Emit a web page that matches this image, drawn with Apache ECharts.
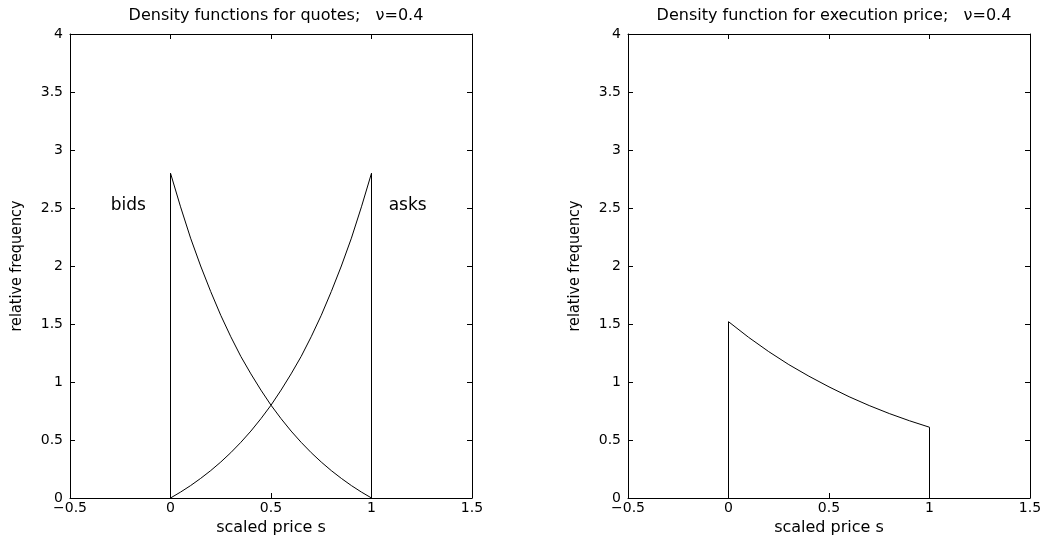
<!DOCTYPE html>
<html>
<head>
<meta charset="utf-8">
<script src="https://cdn.jsdelivr.net/npm/echarts@6/dist/echarts.min.js"></script>
<style>html,body{margin:0;padding:0;background:#fff;}#c{width:1061px;height:536px;}</style>
</head>
<body>
<div id="c"></div>
<script>
// ---- data ----
var sGrid = [0, 0.05, 0.1, 0.15, 0.2, 0.25, 0.3, 0.35, 0.4, 0.45, 0.5, 0.55, 0.6, 0.65, 0.7, 0.75, 0.8, 0.85, 0.9, 0.95, 1];
var bidsDensity = [2.80, 2.51, 2.24, 2.00, 1.78, 1.575, 1.39, 1.22, 1.07, 0.93, 0.80, 0.684, 0.577, 0.48, 0.391, 0.31, 0.236, 0.169, 0.107, 0.051, 0];
var asksDensity = [0, 0.051, 0.107, 0.169, 0.236, 0.31, 0.391, 0.48, 0.577, 0.684, 0.80, 0.93, 1.07, 1.22, 1.39, 1.575, 1.78, 2.00, 2.24, 2.51, 2.80];
var execS = [0, 0.1, 0.2, 0.3, 0.4, 0.5, 0.6, 0.7, 0.8, 0.9, 1];
var execDensity = [1.52, 1.385, 1.262, 1.15, 1.05, 0.958, 0.873, 0.797, 0.728, 0.666, 0.61];
var annotations = [{text: 'bids', x: -0.21, y: 2.52}, {text: 'asks', x: 1.18, y: 2.52}];
var titles = ['Density functions for quotes;   \u03bd=0.4', 'Density function for execution price;   \u03bd=0.4'];
var xLabel = 'scaled price s';
var yLabel = 'relative frequency';
var xRange = [-0.5, 1.5], xStep = 0.5;
var yRange = [0, 4], yStep = 0.5;

// ---- build ----
function curve(xs, ys, closeLeft, closeRight) {
  var pts = [];
  if (closeLeft) pts.push([xs[0], 0]);
  for (var i = 0; i < xs.length; i++) pts.push([xs[i], ys[i]]);
  if (closeRight) pts.push([xs[xs.length - 1], 0]);
  return pts;
}
var FONT = 'DejaVu Sans, Liberation Sans, sans-serif';
var NARROW = 'DejaVu Sans Condensed, DejaVu Sans, sans-serif';
function fmt(v) { return String(v).replace('-', '\u2212'); }
var lineStyleAxis = {color: '#000', width: 1};
function xAxes(gi) {
  return [
    {type: 'value', gridIndex: gi, min: xRange[0], max: xRange[1], interval: xStep, position: 'bottom',
     name: xLabel, nameLocation: 'middle', nameGap: 15,
     nameTextStyle: {fontFamily: FONT, fontSize: 16, color: '#000'},
     axisLine: {onZero: false, lineStyle: lineStyleAxis},
     axisTick: {inside: true, length: 5, lineStyle: lineStyleAxis},
     axisLabel: {formatter: fmt, fontFamily: FONT, fontSize: 14, color: '#000', margin: 3},
     splitLine: {show: false}},
    {type: 'value', gridIndex: gi, min: xRange[0], max: xRange[1], interval: xStep, position: 'top',
     axisLine: {onZero: false, lineStyle: lineStyleAxis},
     axisTick: {inside: true, length: 5, lineStyle: lineStyleAxis},
     axisLabel: {show: false}, splitLine: {show: false}}
  ];
}
function yAxes(gi) {
  return [
    {type: 'value', gridIndex: gi, min: yRange[0], max: yRange[1], interval: yStep, position: 'left',
     name: yLabel, nameLocation: 'middle', nameGap: 45, nameRotate: 90,
     nameTextStyle: {fontFamily: NARROW, fontSize: 16, color: '#000'},
     axisLine: {onZero: false, lineStyle: lineStyleAxis},
     axisTick: {inside: true, length: 5, lineStyle: lineStyleAxis},
     axisLabel: {fontFamily: FONT, fontSize: 14, color: '#000', margin: 7},
     splitLine: {show: false}},
    {type: 'value', gridIndex: gi, min: yRange[0], max: yRange[1], interval: yStep, position: 'right',
     axisLine: {onZero: false, lineStyle: lineStyleAxis},
     axisTick: {inside: true, length: 5, lineStyle: lineStyleAxis},
     axisLabel: {show: false}, splitLine: {show: false}}
  ];
}
var lineS = {color: '#000', width: 1};
function lineSeries(pts, xi, yi) {
  return {type: 'line', xAxisIndex: xi, yAxisIndex: yi, data: pts, showSymbol: false, symbol: 'none',
          lineStyle: lineS, animation: false, silent: true};
}
var titleStyle = {fontFamily: FONT, fontSize: 16, fontWeight: 'normal', color: '#000'};
var option = {
  backgroundColor: '#fff',
  animation: false,
  title: [
    {text: titles[0], left: 271, top: 3, textAlign: 'center', textStyle: titleStyle},
    {text: titles[1], left: 829, top: 3, textAlign: 'center', textStyle: titleStyle}
  ],
  grid: [
    {left: 70, right: 589, top: 34, bottom: 38, containLabel: false, outerBoundsMode: 'none'},
    {left: 628, right: 31, top: 34, bottom: 38, containLabel: false, outerBoundsMode: 'none'}
  ],
  xAxis: xAxes(0).concat(xAxes(1)),
  yAxis: yAxes(0).concat(yAxes(1)),
  series: [
    lineSeries(curve(sGrid, bidsDensity, true, false), 0, 0),
    lineSeries(curve(sGrid, asksDensity, false, true), 0, 0),
    lineSeries(curve(execS, execDensity, true, true), 2, 2),
    {type: 'scatter', xAxisIndex: 0, yAxisIndex: 0, symbolSize: 0, silent: true,
     itemStyle: {opacity: 1, color: '#000'},
     data: annotations.map(function (a) { return {value: [a.x, a.y], name: a.text}; }),
     label: {show: true, position: 'inside', formatter: '{b}', fontFamily: FONT, fontSize: 17, color: '#000', opacity: 1}}
  ]
};
var chart = echarts.init(document.getElementById('c'), null, {renderer: 'canvas'});
chart.setOption(option);
</script>
</body>
</html>
